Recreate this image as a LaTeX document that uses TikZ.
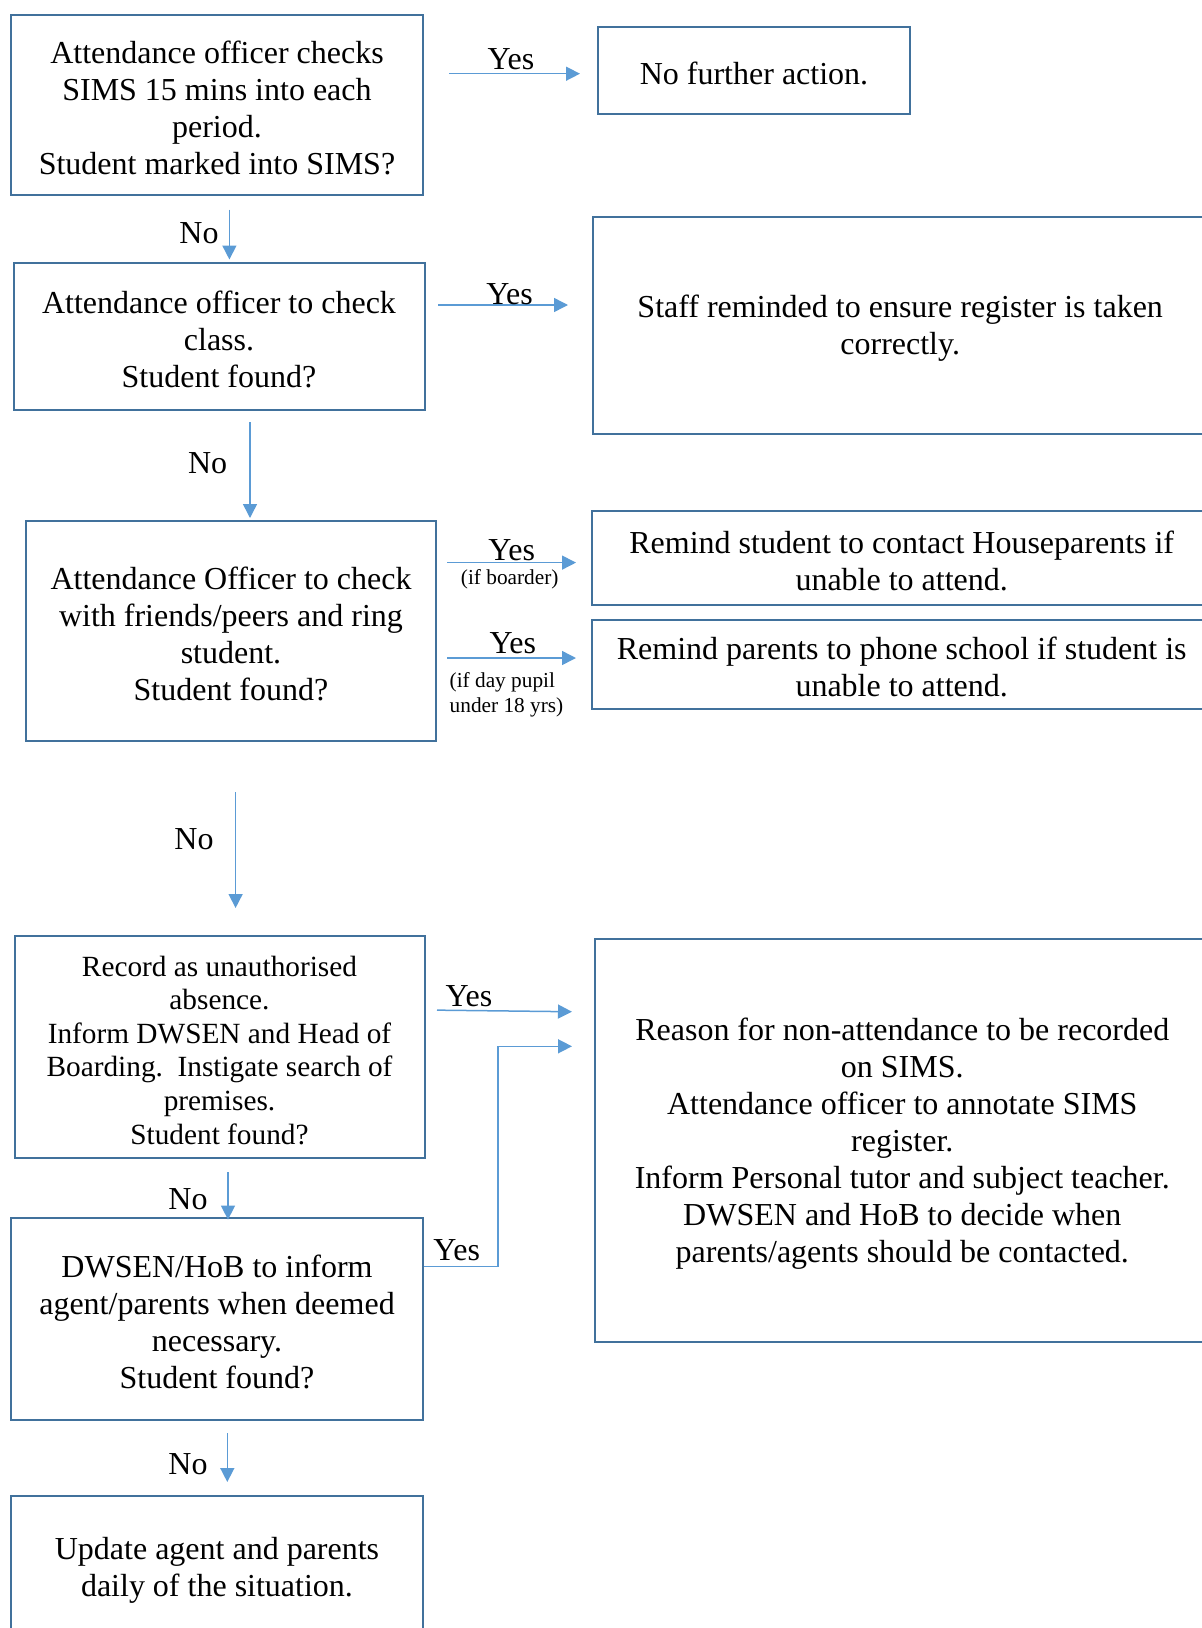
\documentclass[tikz,border=0pt]{standalone}
\usepackage{fontspec}
\setmainfont{Liberation Serif}
\usetikzlibrary{arrows.meta,calc}
\definecolor{boxc}{RGB}{65,113,156}
\definecolor{arrc}{RGB}{91,155,213}
\newcommand\fstline{\rule{0pt}{28.5pt}}
\newcommand\fstlines{\rule{0pt}{26.5pt}}
\begin{document}
\begin{tikzpicture}[x=1pt,y=-1pt,
  box/.style={draw=boxc,line width=2pt,inner sep=0pt,align=center,
    font=\fontsize{32}{37}\selectfont},
  boxs/.style={draw=boxc,line width=2pt,inner sep=0pt,align=center,
    font=\fontsize{29.3}{33.6}\selectfont},
  arr/.style={draw=arrc,line width=1.5pt,-{Triangle[length=14pt,width=14pt]}},
  lbl/.style={inner sep=0pt,font=\fontsize{32}{36.8}\selectfont},
  sml/.style={inner sep=0pt,align=left,font=\fontsize{21.3}{24.6}\selectfont}]
\useasboundingbox (0,0) rectangle (1202,1628);
\clip (0,0) rectangle (1202,1628);
% boxes
\node[box,minimum width=411.1pt,minimum height=180.5pt] (b1) at (217,104.8)
  {\fstline Attendance officer checks\\SIMS 15 mins into each\\period.\\Student marked into SIMS?};
\node[box,minimum width=312pt,minimum height=87pt] (nf) at (754,70.5)
  {\fstline No further action.};
\node[box,minimum width=411pt,minimum height=147.4pt] (b2) at (219,336.3)
  {\fstline Attendance officer to check\\class.\\Student found?};
\node[box,minimum width=615pt,minimum height=217pt] (staff) at (900.2,325.5)
  {\fstline Staff reminded to ensure register is taken\\correctly.};
\node[box,minimum width=410pt,minimum height=220pt] (b3) at (231,631)
  {\fstline Attendance Officer to check\\with friends/peers and ring\\student.\\Student found?};
\node[box,minimum width=620pt,minimum height=94.3pt] (rs) at (901.7,557.9)
  {\fstline Remind student to contact Houseparents if\\unable to attend.};
\node[box,minimum width=620pt,minimum height=89.3pt] (rp) at (901.7,664.4)
  {\fstline Remind parents to phone school if student is\\unable to attend.};
\node[boxs,minimum width=410pt,minimum height=222pt] (b4) at (219.5,1047)
  {\fstlines Record as unauthorised\\absence.\\Inform DWSEN and Head of\\Boarding.\ \ Instigate search of\\premises.\\Student found?};
\node[box,minimum width=615pt,minimum height=403pt] (reason) at (902.3,1140.5)
  {\fstline Reason for non-attendance to be recorded\\on SIMS.\\Attendance officer to annotate SIMS\\register.\\Inform Personal tutor and subject teacher.\\DWSEN and HoB to decide when\\parents/agents should be contacted.};
\node[box,minimum width=411.1pt,minimum height=202.4pt] (b5) at (217,1318.8)
  {\fstline DWSEN/HoB to inform\\agent/parents when deemed\\necessary.\\Student found?};
\node[box,minimum width=411.1pt,minimum height=142pt] (b6) at (217,1567)
  {\fstline Update agent and parents\\daily of the situation.};
% helper coordinates
\coordinate (r1) at (0,73.7);
\coordinate (r2) at (0,305);
\coordinate (r3a) at (0,562.6);
\coordinate (r3b) at (0,658);
\coordinate (r4a) at (0,1010);
\coordinate (r4b) at (0,1012);
\coordinate (r5) at (0,1266.4);
\coordinate (k5) at (498.2,1046.3);
\coordinate (c1) at (229.4,0);
\coordinate (c2) at (250,0);
\coordinate (c3) at (235.6,0);
\coordinate (c4) at (228,0);
\coordinate (c5) at (227.3,0);
% Yes arrows
\draw[arr,shorten <=25.5pt,shorten >=17pt] (b1.east |- r1) -- (nf.west |- r1);
\draw[arr,shorten <=12.5pt,shorten >=23.7pt] (b2.east |- r2) -- (staff.west |- r2);
\draw[arr,shorten <=10pt,shorten >=14.7pt] (b3.east |- r3a) -- (rs.west |- r3a);
\draw[arr,shorten <=10pt,shorten >=14.7pt] (b3.east |- r3b) -- (rp.west |- r3b);
\draw[arr,shorten <=11.5pt,shorten >=21.8pt] (b4.east |- r4a) -- (reason.west |- r4b);
\draw[arr,shorten >=21.8pt] (b5.east |- r5) -| (k5) -- (reason.west |- k5);
% No arrows
\draw[arr,shorten <=13.6pt,shorten >=2.1pt] (b1.south -| c1) -- (b2.north -| c1);
\draw[arr,shorten <=11pt,shorten >=2pt] (b2.south -| c2) -- (b3.north -| c2);
\draw[arr,shorten <=50pt,shorten >=27pt] (b3.south -| c3) -- (b4.north -| c3);
\draw[arr,shorten <=13pt,shorten >=-3pt] (b4.south -| c4) -- (b5.north -| c4);
\draw[arr,shorten <=12pt,shorten >=13pt] (b5.south -| c5) -- (b6.north -| c5);
% labels
\node[lbl] (ly1) at (511,59) {Yes};
\node[lbl] (ly2) at (509.6,293.8) {Yes};
\node[lbl] (ly3a) at (511.7,550) {Yes};
\node[sml] (lb3a) at (509.7,579.5) {(if boarder)};
\node[lbl] (ly3b) at (512.8,643.6) {Yes};
\node[sml,anchor=west] (lb3b) at (449.5,695) {(if day pupil\\under 18 yrs)};
\node[lbl] (ly4) at (469,996.5) {Yes};
\node[lbl] (ly5) at (456.7,1250) {Yes};
\node[lbl] (ln1) at (199,233.5) {No};
\node[lbl] (ln2) at (207.6,463) {No};
\node[lbl] (ln3) at (194,838.7) {No};
\node[lbl] (ln4) at (188,1199) {No};
\node[lbl] (ln5) at (188,1464.6) {No};
\end{tikzpicture}
\end{document}
